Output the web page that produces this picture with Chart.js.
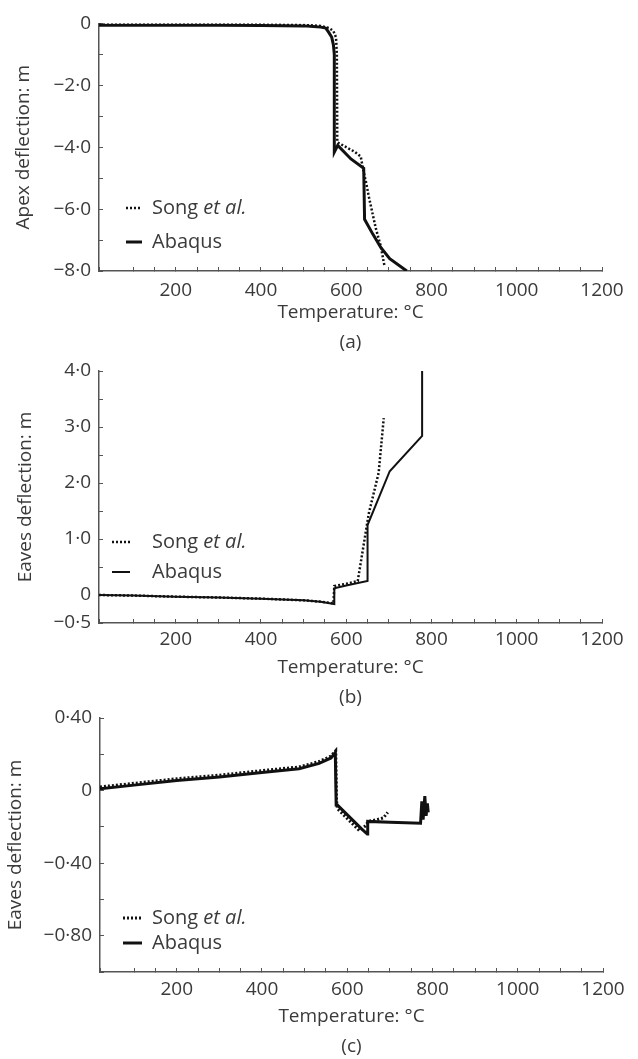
<!DOCTYPE html>
<html>
<head>
<meta charset="utf-8">
<script src="https://cdn.jsdelivr.net/npm/chart.js@4.4.0/dist/chart.umd.min.js"></script>
<style>
  body { margin: 0; background: #fff; width: 638px; height: 1059px; position: relative; overflow: hidden; }
  canvas { position: absolute; left: 0; }
</style>
</head>
<body>
<canvas id="chart-a" width="638" height="358" style="top:0px"></canvas>
<canvas id="chart-b" width="638" height="373" style="top:340px"></canvas>
<canvas id="chart-c" width="638" height="369" style="top:690px"></canvas>
<script>
// temperatures (°C) and deflections (m)
const songA_T = [20, 100, 200, 300, 400, 500, 540, 560, 570, 576, 578, 579, 600, 620, 634, 639, 646, 653, 661, 669, 681, 690];
const songA_D = [-0.02, -0.02, -0.02, -0.03, -0.03, -0.05, -0.08, -0.15, -0.25, -0.45, -1.0, -3.84, -4.0, -4.15, -4.3, -4.68, -5.1, -5.6, -6.1, -6.6, -7.2, -7.86];
const abaqusA_T = [20, 100, 200, 300, 400, 500, 523, 540, 552, 559, 566, 570, 572, 572, 580, 611, 641, 643, 662, 681, 702, 742];
const abaqusA_D = [-0.06, -0.06, -0.06, -0.06, -0.07, -0.08, -0.1, -0.12, -0.15, -0.29, -0.45, -0.7, -1.0, -4.16, -3.94, -4.38, -4.68, -6.33, -6.8, -7.24, -7.6, -8.0];

const songB_T = [20, 100, 200, 300, 400, 500, 540, 570, 572, 600, 627, 653, 676, 688];
const songB_D = [0.0, -0.01, -0.03, -0.045, -0.065, -0.095, -0.12, -0.15, 0.16, 0.2, 0.25, 1.46, 2.18, 3.16];
const abaqusB_T = [20, 100, 200, 300, 400, 500, 540, 572, 572, 600, 650, 650, 702, 778, 778];
const abaqusB_D = [0.0, -0.01, -0.03, -0.045, -0.065, -0.095, -0.12, -0.16, 0.12, 0.17, 0.25, 1.25, 2.21, 2.84, 4.0];

const songC_T = [20, 100, 200, 300, 400, 487, 534, 562, 573, 575, 577, 628, 640, 650, 670, 685, 695];
const songC_D = [0.02, 0.04, 0.065, 0.085, 0.11, 0.13, 0.16, 0.19, 0.22, -0.06, -0.1, -0.22, -0.2, -0.17, -0.16, -0.15, -0.12];
const abaqusC_T = [20, 100, 200, 300, 400, 487, 534, 562, 572, 574, 577, 633, 647, 648, 700, 772, 775, 778, 782, 785, 788, 790];
const abaqusC_D = [0.01, 0.03, 0.055, 0.075, 0.1, 0.12, 0.15, 0.18, 0.21, -0.08, -0.08, -0.21, -0.24, -0.17, -0.175, -0.18, -0.06, -0.16, -0.03, -0.14, -0.07, -0.12];

const X_LABELS = [200, 400, 600, 800, 1000, 1200];
const A_Y_LABELS = [0, -2, -4, -6, -8];
const B_Y_LABELS = [4, 3, 2, 1, 0, -0.5];
const C_Y_LABELS = [0.4, 0, -0.4, -0.8];

const TEXT = "#3a3a3a";
const AXIS = "#555";
const FONT = '"Open Sans", sans-serif';

Chart.defaults.font.family = FONT;
Chart.defaults.color = TEXT;

function fmt(v, digits) {
  if (Math.abs(v) < 1e-9) return "0";
  return (v < 0 ? "\u2212" : "") + Math.abs(v).toFixed(digits).replace(".", "\u00b7");
}

function labelAt(list, digits) {
  return (v) => (list.some((t) => Math.abs(t - v) < 1e-6) ? fmt(v, digits) : "");
}

function pts(xs, ys) {
  return xs.map((x, i) => ({ x, y: ys[i] }));
}

const LEGEND_PARTS = [
  [["Song ", "normal"], ["et al.", "italic"]],
  [["Abaqus", "normal"]],
];

const insideLegend = {
  id: "insideLegend",
  afterDraw(chart, args, opts) {
    const ctx = chart.ctx;
    ctx.save();
    chart.data.datasets.forEach((ds, i) => {
      const y = opts.y[i];
      ctx.beginPath();
      ctx.setLineDash(ds.borderDash || []);
      ctx.lineWidth = ds.borderWidth;
      ctx.strokeStyle = ds.borderColor;
      ctx.moveTo(opts.x0, y);
      ctx.lineTo(opts.x1, y);
      ctx.stroke();
      ctx.setLineDash([]);
      ctx.fillStyle = TEXT;
      ctx.textBaseline = "middle";
      let x = opts.textX;
      LEGEND_PARTS[i].forEach(([txt, style]) => {
        ctx.font = `${style} 20px ${FONT}`;
        ctx.fillText(txt, x, y);
        x += ctx.measureText(txt).width;
      });
    });
    ctx.restore();
  },
};

function makePanel(id, p) {
  const ctx = document.getElementById(id).getContext("2d");
  return new Chart(ctx, {
    type: "line",
    data: {
      datasets: [
        {
          label: "Song et al.",
          data: p.song,
          borderColor: "#111",
          borderWidth: p.songWidth,
          borderDash: [2, 2],
          pointRadius: 0,
          tension: 0,
          fill: false,
        },
        {
          label: "Abaqus",
          data: p.abaqus,
          borderColor: "#111",
          borderWidth: p.abaqusWidth,
          pointRadius: 0,
          tension: 0,
          fill: false,
        },
      ],
    },
    options: {
      responsive: false,
      animation: false,
      layout: { padding: { top: p.padTop, right: p.padRight, left: 0, bottom: 0 } },
      scales: {
        x: {
          type: "linear",
          min: 20,
          max: 1200,
          afterFit: (s) => { s.height = p.xHeight; },
          border: { color: AXIS, width: 1.5 },
          grid: { drawOnChartArea: false, tickLength: -4, color: AXIS },
          ticks: {
            stepSize: 50,
            autoSkip: false,
            maxRotation: 0,
            padding: p.xTickPad,
            color: TEXT,
            font: { size: 19 },
            callback: labelAt(X_LABELS, 0),
          },
          title: {
            display: true,
            text: ["Temperature: °C", p.tag],
            color: TEXT,
            font: { size: 19, lineHeight: "30px" },
            padding: { top: 0, bottom: p.titlePad },
          },
        },
        y: {
          type: "linear",
          min: p.yMin,
          max: p.yMax,
          afterFit: (s) => { s.width = p.yWidth; },
          border: { color: AXIS, width: 1.5 },
          grid: { drawOnChartArea: false, tickLength: -4, color: AXIS },
          ticks: {
            stepSize: p.yStep,
            autoSkip: false,
            padding: 12,
            color: TEXT,
            font: { size: 19 },
            callback: labelAt(p.yLabels, p.digits),
          },
          title: {
            display: true,
            text: p.yTitle,
            color: TEXT,
            font: { size: 19 },
            padding: { top: p.yTitlePad, bottom: 0 },
          },
        },
      },
      plugins: {
        legend: { display: false },
        tooltip: { enabled: false },
        insideLegend: p.legend,
      },
    },
    plugins: [insideLegend],
  });
}

makePanel("chart-a", {
  song: pts(songA_T, songA_D),
  abaqus: pts(abaqusA_T, abaqusA_D),
  songWidth: 2.5, abaqusWidth: 3,
  padTop: 19, padRight: 36, xHeight: 87, yWidth: 99, titlePad: 0, xTickPad: 12,
  yMin: -8, yMax: 0, yStep: 1, yLabels: A_Y_LABELS, digits: 1,
  yTitle: "Apex deflection: m", yTitlePad: 12, tag: "(a)",
  legend: { x0: 126, x1: 142, textX: 152, y: [208, 242] },
});

makePanel("chart-b", {
  song: pts(songB_T, songB_D),
  abaqus: pts(abaqusB_T, abaqusB_D),
  songWidth: 2.5, abaqusWidth: 2,
  padTop: 31, padRight: 36, xHeight: 90, yWidth: 99, titlePad: 0, xTickPad: 9,
  yMin: -0.5, yMax: 4, yStep: 0.5, yLabels: B_Y_LABELS, digits: 1,
  yTitle: "Eaves deflection: m", yTitlePad: 14, tag: "(b)",
  legend: { x0: 112, x1: 130, textX: 152, y: [202, 232] },
});

makePanel("chart-c", {
  song: pts(songC_T, songC_D),
  abaqus: pts(abaqusC_T, abaqusC_D),
  songWidth: 3, abaqusWidth: 3,
  padTop: 28, padRight: 35, xHeight: 87, yWidth: 100, titlePad: -3, xTickPad: 10,
  yMin: -1, yMax: 0.4, yStep: 0.2, yLabels: C_Y_LABELS, digits: 2,
  yTitle: "Eaves deflection: m", yTitlePad: 4, tag: "(c)",
  legend: { x0: 123, x1: 142, textX: 152, y: [228, 253] },
});
</script>
</body>
</html>
